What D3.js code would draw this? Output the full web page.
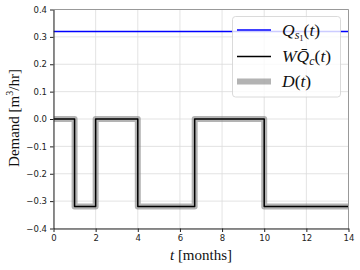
<!DOCTYPE html>
<html>
<head>
<meta charset="utf-8">
<script src="https://cdn.jsdelivr.net/npm/d3@7"></script>
<style>
  body { margin: 0; background: #fff; }
  svg { display: block; }
  .tick text { font-family: "DejaVu Sans", sans-serif; font-size: 8.5px; fill: #222; }
  .lbl { font-family: "Liberation Serif", serif; font-size: 15px; fill: #111; }
  .leg { font-family: "Liberation Serif", serif; font-size: 17.5px; fill: #111; }
</style>
</head>
<body>
<svg id="chart"></svg>
<script>
// data
var xTicks = [0, 2, 4, 6, 8, 10, 12, 14];
var yTicks = [-0.4, -0.3, -0.2, -0.1, 0.0, 0.1, 0.2, 0.3, 0.4];
var supplyTimes = [0, 14];
var supplyValues = [0.32, 0.32];
var switchTimes = [0, 1, 2, 4, 6.7, 10, 14];
var switchValues = [0, -0.32, 0, -0.32, 0, -0.32, -0.32];

var width = 360, height = 270;
var pLeft = 53.5, pRight = 348.5, pTop = 9.5, pBottom = 228.5;

var svg = d3.select('#chart').attr('width', width).attr('height', height);

var xScale = d3.scaleLinear().domain([0, 14]).range([pLeft, pRight]);
var yScale = d3.scaleLinear().domain([-0.4, 0.4]).range([pBottom, pTop]);

svg.append('defs').append('clipPath').attr('id', 'plotclip')
  .append('rect').attr('x', pLeft).attr('y', pTop)
  .attr('width', pRight - pLeft).attr('height', pBottom - pTop);

// grid
var grid = svg.append('g');
xTicks.forEach(function(t) {
  grid.append('line').attr('x1', xScale(t)).attr('x2', xScale(t))
    .attr('y1', pTop).attr('y2', pBottom)
    .attr('stroke', '#dcdcdc').attr('stroke-width', 0.8);
});
yTicks.forEach(function(v) {
  grid.append('line').attr('x1', pLeft).attr('x2', pRight)
    .attr('y1', yScale(v)).attr('y2', yScale(v))
    .attr('stroke', '#dcdcdc').attr('stroke-width', 0.8);
});

var plot = svg.append('g').attr('clip-path', 'url(#plotclip)');

var stepLine = d3.line()
  .x(function(d) { return xScale(d[0]); })
  .y(function(d) { return yScale(d[1]); })
  .curve(d3.curveStepAfter);

var switchPts = switchTimes.map(function(t, i) { return [t, switchValues[i]]; });
var supplyPts = supplyTimes.map(function(t, i) { return [t, supplyValues[i]]; });

// D(t)
plot.append('path').attr('d', stepLine(switchPts))
  .attr('fill', 'none').attr('stroke', '#808080').attr('stroke-opacity', 0.6)
  .attr('stroke-width', 6).attr('stroke-linejoin', 'round');
// W Q_c(t)
plot.append('path').attr('d', stepLine(switchPts))
  .attr('fill', 'none').attr('stroke', '#000')
  .attr('stroke-width', 1.5).attr('stroke-linejoin', 'round');
// Q_s1(t)
plot.append('path').attr('d', stepLine(supplyPts))
  .attr('fill', 'none').attr('stroke', '#0000ff').attr('stroke-width', 1.5);

// frame
svg.append('line').attr('x1', pLeft).attr('x2', pRight).attr('y1', pTop).attr('y2', pTop)
  .attr('stroke', '#999').attr('stroke-width', 1);
svg.append('line').attr('x1', pRight).attr('x2', pRight).attr('y1', pTop).attr('y2', pBottom)
  .attr('stroke', '#999').attr('stroke-width', 1);

// axes
var xAxis = d3.axisBottom(xScale).tickValues(xTicks).tickSize(3.5).tickPadding(3)
  .tickFormat(d3.format('d')).tickSizeOuter(0);
var yAxis = d3.axisLeft(yScale).tickValues(yTicks).tickSize(3.5).tickPadding(3)
  .tickFormat(function(d) { return d3.format('.1f')(d).replace('-', '\u2212'); }).tickSizeOuter(0);

svg.append('g').attr('transform', 'translate(0,' + pBottom + ')').call(xAxis)
  .call(function(g) { g.select('.domain').attr('stroke', '#222'); g.selectAll('.tick line').attr('stroke', '#222'); });
svg.append('g').attr('transform', 'translate(' + pLeft + ',0)').call(yAxis)
  .call(function(g) { g.select('.domain').attr('stroke', '#222'); g.selectAll('.tick line').attr('stroke', '#222'); });

// axis labels
var xl = svg.append('text').attr('class', 'lbl').attr('x', (pLeft + pRight) / 2).attr('y', 260)
  .attr('text-anchor', 'middle').attr('font-size', '14.5px');
xl.append('tspan').attr('font-style', 'italic').text('t');
xl.append('tspan').text(' [months]');

var yl = svg.append('text').attr('class', 'lbl')
  .attr('transform', 'translate(19,118) rotate(-90)').attr('text-anchor', 'middle');
yl.append('tspan').text('Demand [m');
yl.append('tspan').attr('font-size', '10px').attr('dy', -6).text('3');
yl.append('tspan').attr('dy', 6).text('/hr]');

// legend
var lg = svg.append('g');
lg.append('rect').attr('x', 232.5).attr('y', 16.5).attr('width', 108).attr('height', 80.5)
  .attr('rx', 3).attr('fill', '#fff').attr('fill-opacity', 0.8)
  .attr('stroke', '#d0d0d0').attr('stroke-width', 0.8);

var legendRows = [
  { y: 30, color: '#0000ff', w: 1.5, op: 1 },
  { y: 56.5, color: '#000', w: 1.5, op: 1 },
  { y: 81.5, color: '#808080', w: 6, op: 0.6 }
];
legendRows.forEach(function(r) {
  lg.append('line').attr('x1', 237).attr('x2', 271).attr('y1', r.y).attr('y2', r.y)
    .attr('stroke', r.color).attr('stroke-width', r.w).attr('stroke-opacity', r.op);
});

var t1 = lg.append('text').attr('class', 'leg').attr('x', 282).attr('y', 35.5);
t1.append('tspan').attr('font-style', 'italic').text('Q');
t1.append('tspan').attr('font-style', 'italic').attr('font-size', '12px').attr('dy', 3).text('s');
t1.append('tspan').attr('font-size', '8.5px').attr('dy', 2).text('1');
t1.append('tspan').attr('dy', -5).text('(');
t1.append('tspan').attr('font-style', 'italic').text('t');
t1.append('tspan').text(')');

var t2 = lg.append('text').attr('class', 'leg').attr('x', 282).attr('y', 62);
t2.append('tspan').attr('font-style', 'italic').text('W');
t2.append('tspan').attr('font-style', 'italic').text('Q\u0304');
t2.append('tspan').attr('font-style', 'italic').attr('font-size', '12px').attr('dy', 3).text('c');
t2.append('tspan').attr('dy', -3).text('(');
t2.append('tspan').attr('font-style', 'italic').text('t');
t2.append('tspan').text(')');

var t3 = lg.append('text').attr('class', 'leg').attr('x', 282).attr('y', 87);
t3.append('tspan').attr('font-style', 'italic').text('D');
t3.append('tspan').text('(');
t3.append('tspan').attr('font-style', 'italic').text('t');
t3.append('tspan').text(')');
</script>
</body>
</html>
